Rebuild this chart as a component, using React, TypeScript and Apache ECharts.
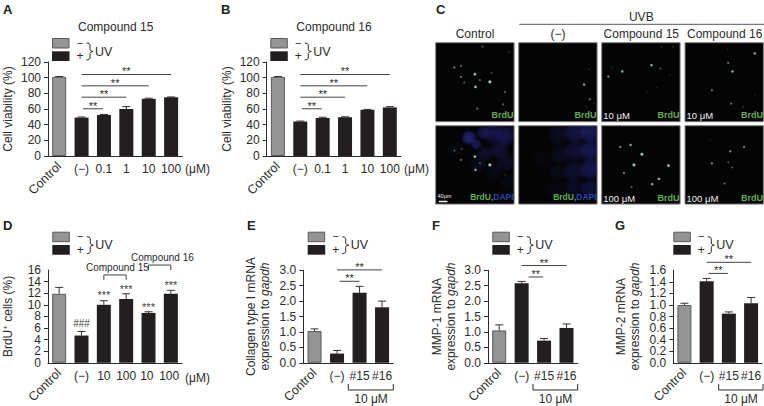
import React, { useEffect, useRef } from "react";
import * as echarts from "echarts";

const FONT = "'Liberation Sans', Arial, sans-serif";
const INK = "#2b2b2b";

// ---- bar panel data
const catsAB = ["Control", "(−)", "0.1", "1", "10", "100"];
const catsD = ["Control", "(−)", "10", "100", "10 ", "100 "];
const catsEFG = ["Control", "(−)", "#15", "#16"];

const valuesA = [101, 49, 52.5, 60, 73, 75];
const errorsA = [0.5, 0.8, 0.4, 3, 0.8, 0.4];
const valuesB = [101, 44, 48.5, 49.5, 59, 62];
const errorsB = [0.5, 0.6, 1, 0.5, 0.5, 1];
const valuesD = [11.9, 4.7, 10, 11, 8.6, 11.9];
const errorsD = [1.1, 0.7, 0.7, 0.9, 0.2, 0.6];
const valuesE = [1.03, 0.3, 2.27, 1.8];
const errorsE = [0.07, 0.1, 0.21, 0.2];
const valuesF = [1.05, 2.58, 0.72, 1.13];
const errorsF = [0.18, 0.06, 0.07, 0.13];
const valuesG = [1.0, 1.41, 0.85, 1.03];
const errorsG = [0.03, 0.05, 0.03, 0.1];

// [from, to, level, insetLeft, insetRight]
const sigAB = [[1, 5, 104.7, 0, 0], [1, 4, 90.2, 0, 0], [1, 3, 75.7, 0, 0], [1, 2, 60.9, 1.5, 1]];
const sigE = [[1, 3, 3.03, 0, 0], [1, 2, 2.66, 2.5, 0]];
const sigF = [[1, 3, 3.17, 0, 0], [1, 2, 2.8, 7, 1]];
const sigG = [[1, 3, 1.747, 0, 0], [1, 2, 1.555, 2, 1]];

// [index, level, text]
const marksD = [[1, 6.7, "###"], [2, 12.0, "***"], [3, 13.0, "***"], [4, 9.8, "***"], [5, 13.6, "***"]];
// [from, to, top, drop]
const bracketsD = [[2, 3, 15.15, 14.3], [4, 5, 16.85, 16]];

// ---- microscopy panels: [x, y, size, alpha] in a 236-unit field
const spotsControl = [
  [141, 12, 2, 0.4], [221, 27, 1.6, 0.3], [56, 74, 2.2, 0.6], [76, 69, 2, 0.5], [118, 94, 2.8, 0.85], [76, 102, 2.2, 0.55],
  [133, 112, 2, 0.45], [86, 119, 2, 0.4], [168, 90, 1.8, 0.35], [163, 117, 3, 0.9], [120, 132, 2.8, 0.85], [209, 147, 2, 0.45],
  [203, 184, 2, 0.45], [125, 197, 2.2, 0.55],
];
const spotsUv = [
  [197, 125, 2.6, 0.7], [214, 169, 2.2, 0.5], [212, 79, 1.6, 0.2], [227, 182, 1.6, 0.2], [204, 192, 1.4, 0.18], [218, 220, 1.2, 0.12],
];
const spots15 = [
  [150, 67, 2.6, 0.75], [62, 86, 2.6, 0.75], [20, 101, 2.4, 0.6], [177, 77, 2.2, 0.4], [30, 74, 1.6, 0.2], [180, 12, 1.8, 0.22],
  [215, 12, 1.8, 0.22], [205, 97, 1.6, 0.18], [165, 134, 1.6, 0.18], [137, 146, 1.4, 0.15],
];
const spots16 = [
  [210, 32, 2.6, 0.7], [130, 60, 2.2, 0.55], [143, 86, 2.6, 0.75], [81, 142, 2.2, 0.55], [139, 182, 2.2, 0.55], [128, 20, 1.4, 0.18],
  [175, 192, 1.6, 0.22], [210, 157, 1.4, 0.18],
];
const spotsDapiControl = [
  [56, 75, 2, 0.4], [78, 70, 1.8, 0.35], [118, 93, 2.8, 0.85], [76, 103, 2.2, 0.5], [133, 113, 1.8, 0.4], [163, 118, 3, 0.9],
  [120, 133, 2.6, 0.7], [209, 148, 1.6, 0.2],
];
const spots15High = [
  [56, 64, 2.4, 0.6], [87, 58, 2.6, 0.7], [121, 86, 3, 0.9], [97, 118, 3, 0.9], [201, 120, 2.8, 0.85], [67, 142, 2.4, 0.55],
  [172, 160, 2.8, 0.75], [152, 176, 2.6, 0.7], [90, 185, 2.2, 0.45],
];
const spots16High = [
  [178, 64, 2.4, 0.55], [136, 77, 2.4, 0.6], [81, 113, 2.4, 0.6], [130, 110, 1.8, 0.4], [142, 126, 1.8, 0.4], [119, 174, 2.2, 0.5],
  [77, 41, 1.4, 0.15],
];

// [x, y, diameter, alpha]
const blobsControl = [
  [100, 36, 16, 0.75], [122, 56, 12, 0.55], [140, 22, 14, 0.4], [170, 22, 22, 0.45], [210, 30, 22, 0.45], [190, 70, 22, 0.3], [148, 84, 18, 0.27],
  [214, 108, 22, 0.2], [175, 135, 20, 0.14], [128, 118, 18, 0.18], [218, 170, 20, 0.1], [60, 70, 18, 0.08],
];
const blobsUv = [
  [215, 20, 24, 0.55], [170, 20, 24, 0.4], [120, 25, 24, 0.2], [215, 75, 24, 0.48], [170, 75, 24, 0.32], [125, 85, 22, 0.18],
  [215, 130, 24, 0.48], [165, 135, 24, 0.27], [115, 140, 20, 0.12], [215, 190, 22, 0.35], [165, 190, 24, 0.2], [110, 195, 20, 0.09], [70, 100, 22, 0.07],
];

const panelLetters = [["A", 3, 9], ["B", 221, 9], ["C", 436, 9], ["D", 3, 225], ["E", 247, 225], ["F", 432, 225], ["G", 615, 225]];

function buildOption() {
  const grid: any[] = [], xAxis: any[] = [], yAxis: any[] = [], series: any[] = [], graphic: any[] = [];
  const txt = (text: string, x: number, y: number, o: any = {}) =>
    graphic.push({
      type: "text", x, y, z: 100, silent: true, rotation: o.rotation || 0,
      style: {
        text, x: 0, y: 0, fill: o.fill || INK, textAlign: o.align || "center", textVerticalAlign: "middle",
        font: `${o.weight || "normal"} ${o.size || 12}px ${FONT}`, rich: o.rich,
      },
    });
  const line = (pts: number[][], color = INK, w = 1) =>
    graphic.push({ type: "polyline", z: 100, silent: true, shape: { points: pts }, style: { stroke: color, lineWidth: w, fill: "none" } });

  const legend = (x: number, y: number) => {
    graphic.push({ type: "rect", z: 100, silent: true, shape: { x: x + 0.5, y: y + 0.5, width: 16.5, height: 9.5 }, style: { fill: "#949494", stroke: "#5a5a5a", lineWidth: 1 } });
    graphic.push({ type: "rect", z: 100, silent: true, shape: { x, y: y + 13.3, width: 17.5, height: 9.7 }, style: { fill: "#231f20" } });
    txt("−", x + 28, y + 4.5, { size: 11 });
    txt("+", x + 28, y + 18, { size: 12 });
    graphic.push({
      type: "polyline", z: 100, silent: true,
      shape: { points: [[x + 34.5, y + 5], [x + 37, y + 5.5], [x + 38, y + 7], [x + 38, y + 11.5], [x + 39, y + 13], [x + 41, y + 13.5], [x + 39, y + 14], [x + 38, y + 15.5], [x + 38, y + 20], [x + 37, y + 21.5], [x + 34.5, y + 22]] },
      style: { stroke: INK, lineWidth: 1, fill: "none" },
    });
    txt("UV", x + 43, y + 13.5, { align: "left", size: 12.5 });
  };

  const barPanel = (p: any) => {
    const g = grid.length;
    const xi = xAxis.length;
    const yi = yAxis.length;
    grid.push({ left: p.left, top: p.top, width: p.right - p.left, height: p.bottom - p.top, containLabel: false });
    xAxis.push({
      type: "category", gridIndex: g, position: "bottom", data: p.cats, boundaryGap: true,
      axisLine: { lineStyle: { color: INK, width: 1 } },
      axisTick: { length: 4, alignWithLabel: false, lineStyle: { color: INK, width: 1 } },
      axisLabel: { interval: 0, margin: 7, color: INK, fontSize: 12, fontFamily: FONT, formatter: (v: string) => (v === "Control" ? "" : v) },
    });
    xAxis.push({
      type: "category", gridIndex: g, position: "bottom", data: p.cats, boundaryGap: true,
      axisLine: { show: false }, axisTick: { show: false },
      axisLabel: { interval: 0, rotate: 45, margin: 8, color: INK, fontSize: 12.5, fontFamily: FONT, formatter: (v: string) => (v === "Control" ? v : "") },
    });
    yAxis.push({
      type: "value", gridIndex: g, min: 0, max: p.max, interval: p.step, position: "left", splitLine: { show: false },
      axisLine: { show: true, lineStyle: { color: INK, width: 1 } },
      axisTick: { show: true, length: 4, lineStyle: { color: INK, width: 1 } },
      axisLabel: { margin: 7, color: INK, fontSize: 12, fontFamily: FONT, formatter: p.fmt },
      name: p.name, nameLocation: "middle", nameGap: p.nameGap, nameRotate: 90,
      nameTextStyle: { color: INK, fontSize: 12, fontFamily: FONT, lineHeight: 14, rich: p.rich },
    });
    if (p.edgeLabels) {
      // dense axes: the end labels sit on a twin axis, so that they are kept alongside the middle ones
      yAxis.push({
        type: "value", gridIndex: g, min: 0, max: p.max, interval: p.step, position: "left", splitLine: { show: false },
        axisLine: { show: false }, axisTick: { show: false },
        axisLabel: { margin: 7, color: INK, fontSize: 12, fontFamily: FONT, formatter: p.fmt, customValues: [0, p.max] },
      });
    }
    series.push({
      type: "bar", xAxisIndex: xi, yAxisIndex: yi, barWidth: 14, silent: true,
      data: p.values.map((v: number, i: number) => ({
        value: v,
        itemStyle: i === 0 ? { color: "#949494", borderColor: "#5a5a5a", borderWidth: 1 } : { color: "#231f20" },
      })),
    });
    series.push({
      type: "custom", xAxisIndex: xi, yAxisIndex: yi, silent: true, z: 3,
      data: p.values.map((v: number, i: number) => [i, v, v + p.errors[i]]),
      encode: { x: 0, y: [1, 2] },
      renderItem: (_: any, api: any) => {
        const a = api.coord([api.value(0), api.value(1)]);
        const b = api.coord([api.value(0), api.value(2)]);
        const st = { stroke: "#333", lineWidth: 1 };
        return {
          type: "group",
          children: [
            { type: "line", shape: { x1: a[0], y1: a[1], x2: b[0], y2: b[1] }, style: st },
            { type: "line", shape: { x1: a[0] - 4, y1: b[1], x2: a[0] + 4, y2: b[1] }, style: st },
          ],
        };
      },
    });
    if (p.sig) {
      series.push({
        type: "custom", xAxisIndex: xi, yAxisIndex: yi, silent: true, z: 4, clip: false,
        data: p.sig.map((s: number[]) => [s[0], s[2], s[1], s[3], s[4]]),
        encode: { x: 0, y: 1 },
        renderItem: (_: any, api: any) => {
          const l = api.coord([api.value(0), api.value(1)]);
          const r = api.coord([api.value(2), api.value(1)]);
          const x1 = l[0] + api.value(3), x2 = r[0] - api.value(4);
          return {
            type: "group",
            children: [
              { type: "line", shape: { x1, y1: l[1] + 0.5, x2, y2: l[1] + 0.5 }, style: { stroke: "#444", lineWidth: 1 } },
              { type: "text", style: { text: "**", x: (x1 + x2) / 2, y: l[1] - 2.5, textAlign: "center", textVerticalAlign: "middle", fill: INK, font: `11px ${FONT}` } },
            ],
          };
        },
      });
    }
    if (p.marks) {
      series.push({
        type: "custom", xAxisIndex: xi, yAxisIndex: yi, silent: true, z: 4, clip: false,
        data: p.marks.map((m: any[]) => [m[0], m[1]]),
        encode: { x: 0, y: 1 },
        renderItem: (params: any, api: any) => {
          const c = api.coord([api.value(0), api.value(1)]);
          const t = p.marks[params.dataIndex][2];
          return { type: "text", style: { text: t, x: c[0], y: c[1] + (t === "###" ? 0 : 1.5), textAlign: "center", textVerticalAlign: "middle", fill: "#444", font: `${t === "###" ? 10 : 11}px ${FONT}` } };
        },
      });
    }
    if (p.brackets) {
      series.push({
        type: "custom", xAxisIndex: xi, yAxisIndex: yi, silent: true, z: 4, clip: false,
        data: p.brackets,
        encode: { x: 0, y: 2 },
        renderItem: (_: any, api: any) => {
          const a = api.coord([api.value(0), api.value(2)]);
          const b = api.coord([api.value(1), api.value(3)]);
          return { type: "polyline", shape: { points: [[a[0], b[1]], [a[0], a[1]], [b[0], a[1]], [b[0], b[1]]] }, style: { stroke: "#444", lineWidth: 1, fill: "none" } };
        },
      });
    }
  };

  const imagePanel = (x: number, y: number, w: number, h: number, spots: number[][], blobs?: number[][]) => {
    const g = grid.length, xi = xAxis.length, yi = yAxis.length;
    grid.push({ left: x, top: y, width: w, height: h, show: true, backgroundColor: "#040404", borderColor: "#808080", borderWidth: 1 });
    xAxis.push({ type: "value", gridIndex: g, min: 0, max: 236, show: false });
    yAxis.push({ type: "value", gridIndex: g, min: 0, max: 236, inverse: true, show: false });
    if (blobs) {
      series.push({
        type: "custom", xAxisIndex: xi, yAxisIndex: yi, silent: true, z: 1, data: blobs,
        encode: { x: 0, y: 1 },
        renderItem: (params: any, api: any) => {
          const c = api.coord([api.value(0), api.value(1)]);
          const a = api.value(3);
          const cs = params.coordSys;
          return {
            type: "circle",
            shape: { cx: c[0], cy: c[1], r: api.value(2) / 2 },
            clipPath: { type: "rect", shape: { x: cs.x, y: cs.y, width: cs.width, height: cs.height } },
            style: {
              fill: new echarts.graphic.RadialGradient(0.5, 0.5, 0.5, [
                { offset: 0, color: `rgba(45,45,165,${a})` },
                { offset: 0.6, color: `rgba(45,45,165,${a * 0.7})` },
                { offset: 1, color: "rgba(45,45,165,0)" },
              ]),
            },
          };
        },
      });
    }
    series.push({
      type: "scatter", xAxisIndex: xi, yAxisIndex: yi, silent: true, z: 2, data: spots,
      symbolSize: (v: number[]) => v[2],
      itemStyle: { opacity: 1, color: (p: any) => `rgba(175,228,195,${p.value[3]})` },
    });
  };

  // Bar panels
  const rich = { n: { fontSize: 12, fontFamily: FONT, color: INK }, i: { fontSize: 12, fontFamily: FONT, color: INK, fontStyle: "italic" }, s: { fontSize: 8, fontFamily: FONT, color: INK, verticalAlign: "top", lineHeight: 8 } };
  barPanel({ left: 48, right: 182.3, top: 62, bottom: 156, cats: catsAB, values: valuesA, errors: errorsA, max: 120, step: 20, sig: sigAB, name: "Cell viability (%)", nameGap: 33 });
  barPanel({ left: 266.7, right: 401, top: 62, bottom: 156, cats: catsAB, values: valuesB, errors: errorsB, max: 120, step: 20, sig: sigAB, name: "Cell viability (%)", nameGap: 33 });
  barPanel({ left: 48, right: 182, top: 270, bottom: 364.3, cats: catsD, values: valuesD, errors: errorsD, max: 16, step: 2, edgeLabels: true, marks: marksD, brackets: bracketsD, name: "{n|BrdU}{s|+}{n| cells (%)}", nameGap: 33, rich });
  const f1 = (v: number) => v.toFixed(1);
  barPanel({ left: 303.3, right: 393.3, top: 270.3, bottom: 364.7, cats: catsEFG, values: valuesE, errors: errorsE, max: 3, step: 0.5, fmt: f1, sig: sigE, name: "{n|Collagen type I mRNA}\n{n|expression to }{i|gapdh}", nameGap: 31.5, rich });
  barPanel({ left: 488, right: 577.7, top: 270.3, bottom: 364.7, cats: catsEFG, values: valuesF, errors: errorsF, max: 3, step: 0.5, fmt: f1, sig: sigF, name: "{n|MMP-1 mRNA}\n{n|expression to }{i|gapdh}", nameGap: 30, rich });
  barPanel({ left: 673.3, right: 763, top: 270.3, bottom: 364.7, cats: catsEFG, values: valuesG, errors: errorsG, max: 1.6, step: 0.2, edgeLabels: true, fmt: f1, sig: sigG, name: "{n|MMP-2 mRNA}\n{n|expression to }{i|gapdh}", nameGap: 31, rich });

  txt("Compound 15", 115.7, 27);
  txt("Compound 16", 334, 27);
  [[52, 38], [270.3, 38], [52.3, 231.7], [307.7, 231.7], [492.3, 231.7], [673.3, 231.7]].forEach(([x, y]) => legend(x, y));
  txt("(μM)", 185, 169.3, { align: "left" });
  txt("(μM)", 404, 169.3, { align: "left" });
  txt("(μM)", 185, 377.7, { align: "left" });
  txt("Compound 15", 86, 267.3, { align: "left", size: 10 });
  txt("Compound 16", 131, 257.3, { align: "left", size: 10 });

  [[348.3, 393.3, 371], [533, 577.7, 555.5], [718.7, 763, 741]].forEach(([a, b, c]) => {
    line([[a, 384], [a, 390], [b, 390], [b, 384]]);
    txt("10 μM", c, 399);
  });

  // Panel C
  const cols = [435.7, 518.7, 601.7, 685];
  const W = 78.4, H1 = 79, H2 = 78.4, R1 = 42.7, R2 = 125.7;
  imagePanel(cols[0], R1, W, H1, spotsControl);
  imagePanel(cols[1], R1, W, H1, spotsUv);
  imagePanel(cols[2], R1, W, H1, spots15);
  imagePanel(cols[3], R1, W, H1, spots16);
  imagePanel(cols[0], R2, W, H2, spotsDapiControl, blobsControl);
  imagePanel(cols[1], R2, W, H2, [], blobsUv);
  imagePanel(cols[2], R2, W, H2, spots15High);
  imagePanel(cols[3], R2, W, H2, spots16High);

  txt("UVB", 641.3, 16.7);
  line([[519.3, 24.3], [764, 24.3]], "#555");
  txt("Control", 475, 34);
  txt("(−)", 558, 34);
  txt("Compound 15", 641.3, 34);
  txt("Compound 16", 724.7, 34);

  const GREEN = "#5fb04e";
  const BLUE = "#2448b0";
  cols.forEach((c, i) => {
    txt("BrdU", c + W - 0.5, 115.3, { align: "right", size: 9, weight: "bold", fill: GREEN });
    if (i >= 2) {
      txt("BrdU", c + W - 0.5, 198, { align: "right", size: 9, weight: "bold", fill: GREEN });
      txt("10 μM", c + 1.5, 115.3, { align: "left", size: 9.5, fill: "#f0f0f0" });
      txt("100 μM", c + 1.5, 198, { align: "left", size: 9.5, fill: "#f0f0f0" });
    } else {
      const x = c + W - 0.5;
      txt("{g|BrdU,}{b|DAPI}", x, 197, {
        align: "right",
        rich: {
          g: { fill: GREEN, fontSize: 8.5, fontWeight: "bold", fontFamily: FONT },
          b: { fill: BLUE, fontSize: 8.5, fontWeight: "bold", fontFamily: FONT },
        },
      });
    }
  });
  txt("40μm", 444.5, 196, { size: 5.5, fill: "#f0f0f0" });
  line([[438.7, 201.5], [447.5, 201.5]], "#f0f0f0", 1.5);

  panelLetters.forEach(([t, x, y]) => txt(t as string, x as number, y as number, { align: "left", size: 13, weight: "bold", fill: "#222" }));

  return { animation: false, backgroundColor: "#fff", textStyle: { fontFamily: FONT }, grid, xAxis, yAxis, series, graphic: { elements: graphic } };
}

export default function App() {
  const ref = useRef<HTMLDivElement>(null);
  useEffect(() => {
    document.body.style.margin = "0";
    const chart = echarts.init(ref.current!, undefined, { renderer: "svg" });
    chart.setOption(buildOption() as any);
    return () => chart.dispose();
  }, []);
  return <div ref={ref} style={{ width: 764, height: 406 }} />;
}
